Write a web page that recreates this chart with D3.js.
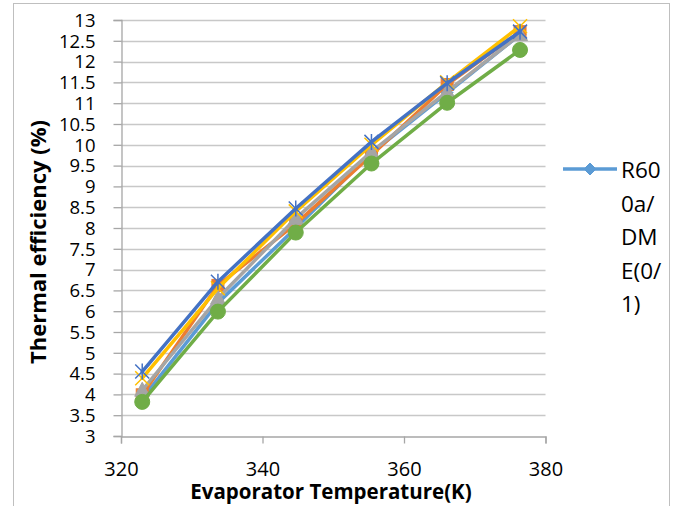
<!DOCTYPE html>
<html>
<head>
<meta charset="utf-8">
<script src="https://cdn.jsdelivr.net/npm/d3@7"></script>
<style>
  html, body { margin: 0; padding: 0; background: #fff; }
  svg { display: block; font-family: "Open Sans", "Liberation Sans", sans-serif; }
</style>
</head>
<body>
<svg id="chart" width="682" height="506"></svg>
<script>
// Evaporator temperature (K) of each operating point
const temps = [323.0, 333.7, 344.7, 355.4, 366.1, 376.4];

// Thermal efficiency (%) for each working-fluid mixture
const effDme01   = [3.90, 6.20, 8.00, 9.80, 11.25, 12.65];
const effMix2    = [3.99, 6.62, 8.10, 9.75, 11.45, 12.72];
const effMix3    = [4.10, 6.31, 8.23, 9.83, 11.28, 12.65];
const effMix4    = [4.39, 6.55, 8.40, 10.00, 11.50, 12.85];
const effMix5    = [4.55, 6.71, 8.47, 10.07, 11.48, 12.72];
const effMix6    = [3.82, 5.99, 7.89, 9.55, 11.01, 12.28];

const seriesNames = ["R600a/DME(0/1)", "mix 2", "mix 3", "mix 4", "mix 5", "mix 6"];
const seriesColors = ["#5B9BD5", "#ED7D31", "#A5A5A5", "#FFC000", "#4472C4", "#70AD47"];
const seriesMarkers = ["diamond", "square", "triangle", "x", "star", "circle"];
const seriesValues = [effDme01, effMix2, effMix3, effMix4, effMix5, effMix6];

const xTicks = [320, 340, 360, 380];
const yTicks = d3.range(3, 13.001, 0.5);

const svg = d3.select("#chart");

// chart-area frame
svg.append("rect")
  .attr("x", 13.5).attr("y", 3.5).attr("width", 656).attr("height", 520)
  .attr("fill", "none").attr("stroke", "#bfbfbf").attr("stroke-width", 1);

const plot = { left: 121, right: 545.5, top: 20, bottom: 436 };
const x = d3.scaleLinear().domain([320, 380]).range([plot.left, plot.right]);
const y = d3.scaleLinear().domain([3, 13]).range([plot.bottom, plot.top]);

// horizontal gridlines
svg.append("g").selectAll("line").data(yTicks.filter(v => v > 3)).join("line")
  .attr("x1", plot.left).attr("x2", plot.right)
  .attr("y1", d => Math.round(y(d)) + 0.5).attr("y2", d => Math.round(y(d)) + 0.5)
  .attr("stroke", "#c8c8c8").attr("stroke-width", 1.3);

// y axis
const yAxis = svg.append("g")
  .attr("transform", `translate(${plot.left + 0.5},0)`)
  .call(d3.axisLeft(y).tickValues(yTicks).tickSize(8).tickPadding(18)
    .tickFormat(d => d3.format("~g")(d)));
yAxis.select(".domain").attr("stroke", "#a6a6a6").attr("stroke-width", 1.3);
yAxis.selectAll(".tick line").attr("stroke", "#a6a6a6").attr("stroke-width", 1.3);
yAxis.selectAll(".tick text").attr("font-size", 18.5).attr("fill", "#000")
  .attr("font-family", "Open Sans").attr("dy", "0.34em");

// x axis
const xAxis = svg.append("g")
  .attr("transform", `translate(0,${plot.bottom + 0.5})`)
  .call(d3.axisBottom(x).tickValues(xTicks).tickSize(7).tickPadding(18));
xAxis.select(".domain").attr("stroke", "#a6a6a6").attr("stroke-width", 1.3);
xAxis.selectAll(".tick line").attr("stroke", "#a6a6a6").attr("stroke-width", 1.3);
xAxis.selectAll(".tick text").attr("font-size", 20).attr("fill", "#000")
  .attr("font-family", "Open Sans");

// axis titles
svg.append("text")
  .attr("x", 331).attr("y", 499)
  .attr("text-anchor", "middle").attr("font-weight", "bold").attr("font-size", 20.5)
  .text("Evaporator Temperature(K)");
svg.append("text")
  .attr("transform", "translate(46,242) rotate(-90)")
  .attr("text-anchor", "middle").attr("font-weight", "bold").attr("font-size", 22)
  .text("Thermal efficiency (%)");

// marker drawing
function drawMarker(g, type, color, cx, cy) {
  if (type === "diamond") {
    g.append("path").attr("d", `M${cx},${cy - 6}L${cx + 6},${cy}L${cx},${cy + 6}L${cx - 6},${cy}Z`)
      .attr("fill", color).attr("stroke", color);
  } else if (type === "square") {
    g.append("rect").attr("x", cx - 6).attr("y", cy - 6).attr("width", 12).attr("height", 12)
      .attr("fill", color).attr("stroke", color);
  } else if (type === "triangle") {
    g.append("path").attr("d", `M${cx},${cy - 8}L${cx + 7.5},${cy + 6}L${cx - 7.5},${cy + 6}Z`)
      .attr("fill", color).attr("stroke", color);
  } else if (type === "circle") {
    g.append("circle").attr("cx", cx).attr("cy", cy).attr("r", 7.5)
      .attr("fill", color).attr("stroke", color);
  } else if (type === "x" || type === "star") {
    const r = 7;
    let d = `M${cx - r},${cy - r}L${cx + r},${cy + r}M${cx - r},${cy + r}L${cx + r},${cy - r}`;
    if (type === "star") d += `M${cx},${cy - r - 1}L${cx},${cy + r + 1}`;
    g.append("path").attr("d", d).attr("fill", "none").attr("stroke", color).attr("stroke-width", 1.5);
  }
}

const line = d3.line().x(d => x(d[0])).y(d => y(d[1]));

seriesValues.forEach((vals, i) => {
  const g = svg.append("g");
  const pts = temps.map((t, j) => [t, vals[j]]);
  g.append("path").datum(pts).attr("d", line)
    .attr("fill", "none").attr("stroke", seriesColors[i]).attr("stroke-width", 3.5)
    .attr("stroke-linejoin", "round").attr("stroke-linecap", "round");
  pts.forEach(p => drawMarker(g, seriesMarkers[i], seriesColors[i], x(p[0]), y(p[1])));
});

// legend (wrapped series name)
const lg = svg.append("g");
lg.append("line").attr("x1", 563).attr("x2", 617).attr("y1", 169).attr("y2", 169)
  .attr("stroke", seriesColors[0]).attr("stroke-width", 3.5);
drawMarker(lg, "diamond", seriesColors[0], 590, 169);
const legendLines = ["R60", "0a/", "DM", "E(0/", "1)"];
lg.selectAll("text.leg").data(legendLines).join("text")
  .attr("class", "leg")
  .attr("x", 621).attr("y", (d, i) => 170 + i * 33.5).attr("dy", "0.36em")
  .attr("font-size", 22.5).attr("fill", "#000")
  .text(d => d);
</script>
</body>
</html>
